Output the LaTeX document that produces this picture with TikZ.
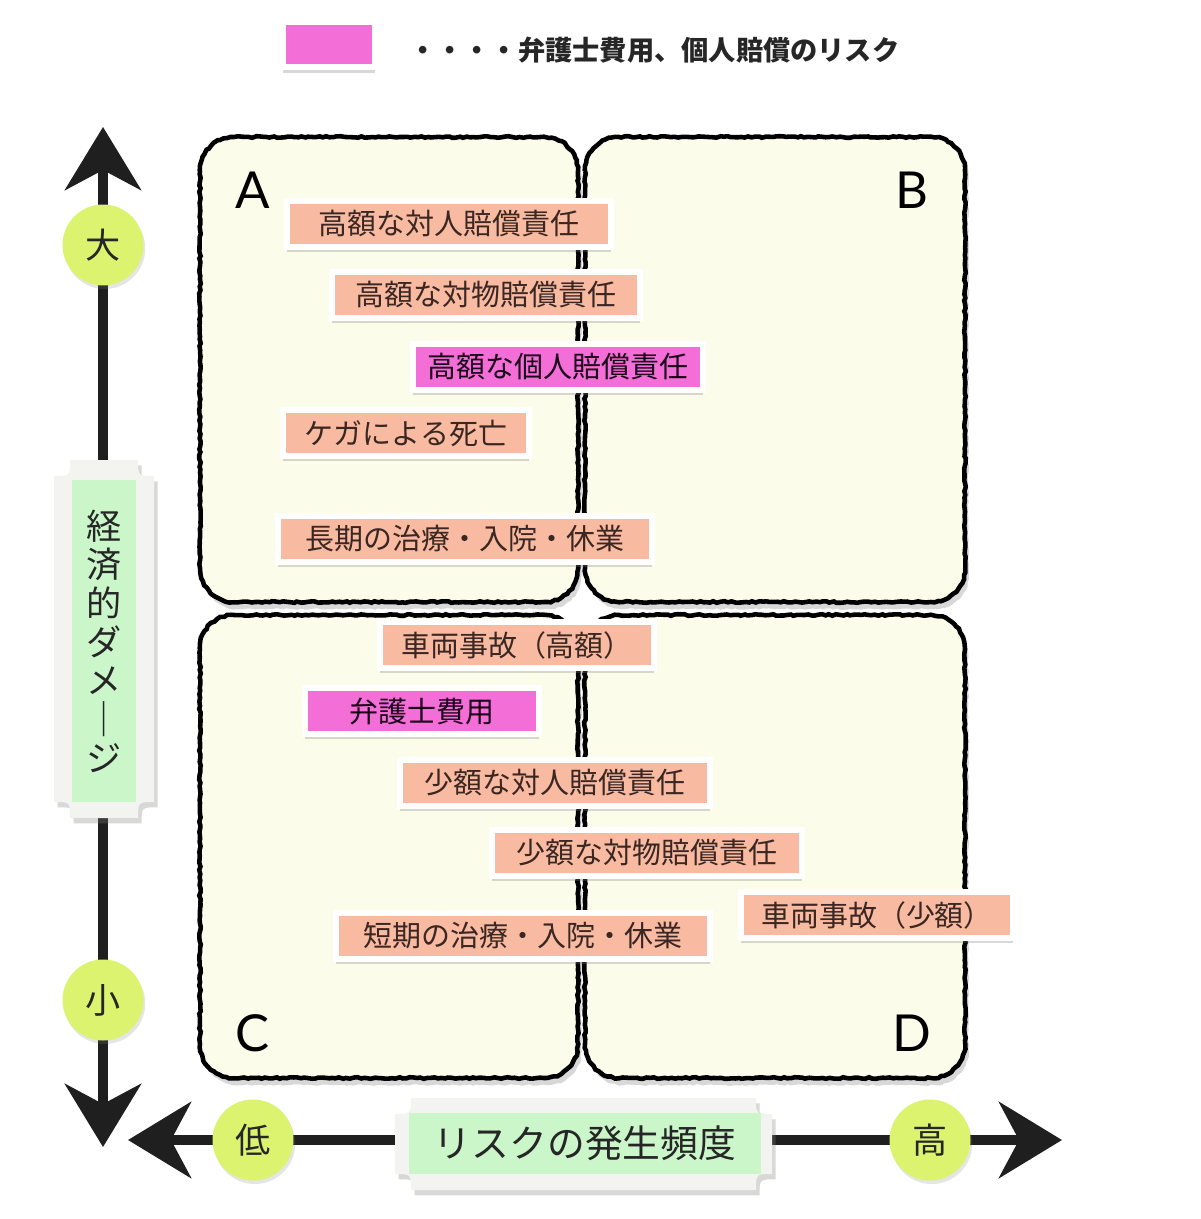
\documentclass[tikz,border=0pt]{standalone}
\usepackage{fontspec}
\setmainfont{Noto Sans CJK JP}
\newfontfamily\letterfont{Lato}
\usetikzlibrary{arrows.meta,shadows,decorations.pathmorphing}

\definecolor{panelfill}{RGB}{252,252,234}
\definecolor{salmon}{RGB}{248,186,160}
\definecolor{lawpink}{RGB}{243,110,214}
\definecolor{dotgreen}{RGB}{220,243,112}
\definecolor{tabgreen}{RGB}{202,246,202}
\definecolor{tabframe}{RGB}{243,243,240}
\definecolor{inktext}{RGB}{58,38,34}

% rounded panel with a chalky border
\newcommand\roughpanel[4]{%
  \draw[panel] (#1,{#2+34}) -- (#1,{#4-34}) .. controls (#1,{#4-15}) and ({#1+15},#4) .. ({#1+34},#4)
    -- ({#3-34},#4) .. controls ({#3-15},#4) and (#3,{#4-15}) .. (#3,{#4-34})
    -- (#3,{#2+34}) .. controls (#3,{#2+15}) and ({#3-15},#2) .. ({#3-34},#2)
    -- ({#1+34},#2) .. controls ({#1+15},#2) and (#1,{#2+15}) .. (#1,{#2+34}) -- cycle;}
% frame with hollow corners behind the axis labels
\newcommand\scrollframe[4]{%
  \fill[tabframe, drop shadow={opacity=0.3,shadow xshift=2pt,shadow yshift=-3pt}]
    ({#1+16},#2) -- ({#3-16},#2) .. controls ({#3-16},{#2+16}) .. (#3,{#2+16})
    -- (#3,{#4-16}) .. controls ({#3-16},{#4-16}) .. ({#3-16},#4)
    -- ({#1+16},#4) .. controls ({#1+16},{#4-16}) .. (#1,{#4-16})
    -- (#1,{#2+16}) .. controls ({#1+16},{#2+16}) .. ({#1+16},#2) -- cycle;}

\begin{document}
\begin{tikzpicture}
  [x=0.02cm,y=-0.02cm,
  panel/.style={draw=black, line width=2.6pt, fill=panelfill,
    decoration={random steps,segment length=2pt,amplitude=0.45pt}, decorate,
    drop shadow={opacity=0.3,shadow xshift=2pt,shadow yshift=-4pt}},
  axis/.style={line width=0.2cm, black!88,
    >={Stealth[length=1.26cm,width=1.52cm,inset=0.4cm]}, <->},
  dot/.style={circle, fill=dotgreen, minimum size=1.62cm, inner sep=0pt,
    font=\fontsize{20}{22}\selectfont, text=black!85,
    drop shadow={opacity=0.2,shadow xshift=1pt,shadow yshift=-2pt}},
  tab/.style={fill=tabgreen, inner sep=0pt, text=black!85},
  riskbox/.style={fill=salmon, draw=white, line width=0.12cm, inner sep=0pt,
    minimum height=0.92cm, text=inktext, font=\fontsize{16.5}{18}\selectfont,
    drop shadow={opacity=0.3,shadow xshift=0pt,shadow yshift=-3pt}},
  lawbox/.style={riskbox, fill=lawpink, text=black!80!violet},
  letter/.style={font=\letterfont\fontsize{29}{30}\selectfont, text=black}]

  \useasboundingbox[fill=white] (0,0) rectangle (1200,1219);

  % legend
  \node[lawbox, minimum width=1.84cm, minimum height=0.9cm] (key) at (329,45) {};
  \node[anchor=west, font=\bfseries\fontsize{15.5}{17}\selectfont, text=black!85]
    (keytext) at (403,50) {・・・・弁護士費用、個人賠償のリスク};

  % panels
  \roughpanel{200}{137}{578}{602}
  \roughpanel{585}{137}{965}{602}
  \roughpanel{200}{615}{578}{1078}
  \roughpanel{585}{615}{965}{1078}
  \node[letter] (lA) at (253,190) {A};
  \node[letter] (lB) at (912,190) {B};
  \node[letter] (lC) at (253,1033) {C};
  \node[letter] (lD) at (912,1033) {D};

  % axes
  \coordinate (ytop) at (103,127);
  \coordinate (ybot) at (103,1147);
  \coordinate (xleft) at (128,1140);
  \coordinate (xright) at (1062,1140);
  \draw[axis] (ybot) -- (ytop);
  \draw[axis] (xleft) -- (xright);

  \node[dot] (big) at (103,245) {大};
  \node[dot] (small) at (103,1000) {小};
  \node[dot] (low) at (253,1140) {低};
  \node[dot] (high) at (930,1140) {高};

  \scrollframe{54}{460}{154}{818}
  \node[tab, minimum width=1.3cm, minimum height=6.44cm, align=center,
    font=\fontsize{20}{22}\selectfont] (damage) at (104,641)
    {経\\済\\的\\ダ\\メ\\｜\\ジ};
  \scrollframe{395}{1098}{772}{1190}
  \node[tab, minimum width=7.04cm, minimum height=1.22cm,
    font=\fontsize{21.5}{23}\selectfont] (freq) at (585,1143) {リスクの発生頻度};

  % risks
  \node[riskbox, minimum width=6.48cm] (r1) at (449,224) {高額な対人賠償責任};
  \node[riskbox, minimum width=6.16cm] (r2) at (486,295) {高額な対物賠償責任};
  \node[lawbox, minimum width=5.8cm] (r3) at (558,367) {高額な個人賠償責任};
  \node[riskbox, minimum width=4.94cm] (r4) at (406,433) {ケガによる死亡};
  \node[riskbox, minimum width=7.48cm] (r5) at (465,539) {長期の治療・入院・休業};
  \node[riskbox, minimum width=5.5cm] (r6) at (517,645) {車両事故（高額）};
  \node[lawbox, minimum width=4.7cm] (r7) at (422,711) {弁護士費用};
  \node[riskbox, minimum width=6.2cm] (r8) at (555,783) {少額な対人賠償責任};
  \node[riskbox, minimum width=6.22cm] (r9) at (647,853) {少額な対物賠償責任};
  \node[riskbox, minimum width=5.44cm] (r10) at (877,915) {車両事故（少額）};
  \node[riskbox, minimum width=7.48cm] (r11) at (523,936) {短期の治療・入院・休業};
\end{tikzpicture}
\end{document}
